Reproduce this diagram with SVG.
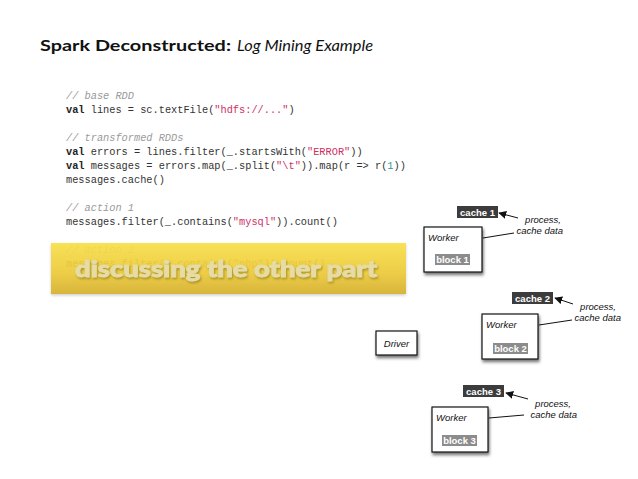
<svg xmlns="http://www.w3.org/2000/svg" width="638" height="479" viewBox="0 0 638 479">
<defs>
<style>
.code{font-family:"Liberation Mono",monospace;font-size:10.3px;fill:#333}
.cm{fill:#9a9a9a;font-style:italic}
.kw{font-weight:bold;fill:#222}
.str{fill:#d02f63}
.num{fill:#2a9a8a}
.box{fill:#fff;stroke:#111;stroke-width:1.2}
.it{font-family:"Liberation Sans",Arial,sans-serif;font-style:italic;font-size:9.5px;fill:#111}
.lbl{font-family:"Liberation Sans",Arial,sans-serif;font-weight:bold;font-size:9.5px;fill:#fff;text-anchor:middle}
.cache{fill:#3c3c3c}
.block{fill:#8c8c8c}
.ln{stroke:#111;stroke-width:1;fill:none}
</style>
<filter id="sh" x="-30%" y="-30%" width="160%" height="170%">
<feDropShadow dx="1" dy="2.5" stdDeviation="1.6" flood-color="#000" flood-opacity="0.55"/>
</filter>
<filter id="tsh" x="-5%" y="-30%" width="110%" height="170%">
<feDropShadow dx="1" dy="1.5" stdDeviation="1.3" flood-color="#8a7418" flood-opacity="0.7"/>
</filter>
<filter id="bsh" x="-5%" y="-20%" width="110%" height="150%">
<feDropShadow dx="0" dy="1.5" stdDeviation="1.5" flood-color="#000" flood-opacity="0.2"/>
</filter>
<linearGradient id="yel" x1="0" y1="0" x2="0" y2="1">
<stop offset="0" stop-color="#f8e04a"/>
<stop offset="0.6" stop-color="#ecc93a"/>
<stop offset="1" stop-color="#d4b02c"/>
</linearGradient>
<marker id="ah" viewBox="0 0 10 10" refX="9" refY="5" markerWidth="8" markerHeight="8" orient="auto" markerUnits="userSpaceOnUse">
<path d="M0,0 L10,5 L0,10 z" fill="#111"/>
</marker>
</defs>
<rect width="638" height="479" fill="#fff"/>

<g id="title" font-family="Lato,'Liberation Sans',sans-serif" font-size="16" fill="#111">
<text x="40" y="51" font-weight="bold" textLength="191" lengthAdjust="spacingAndGlyphs">Spark Deconstructed:</text>
<text x="237" y="51" font-style="italic" textLength="136" lengthAdjust="spacingAndGlyphs">Log Mining Example</text>
</g>

<g id="code" class="code">
<text x="66" y="99"><tspan class="cm">// base RDD</tspan></text>
<text x="66" y="113"><tspan class="kw">val</tspan> lines = sc.textFile(<tspan class="str">"hdfs://..."</tspan>)</text>
<text x="66" y="141"><tspan class="cm">// transformed RDDs</tspan></text>
<text x="66" y="155"><tspan class="kw">val</tspan> errors = lines.filter(_.startsWith(<tspan class="str">"ERROR"</tspan>))</text>
<text x="66" y="169"><tspan class="kw">val</tspan> messages = errors.map(_.split(<tspan class="str">"\t"</tspan>)).map(r =&gt; r(<tspan class="num">1</tspan>))</text>
<text x="66" y="183">messages.cache()</text>
<text x="66" y="211"><tspan class="cm">// action 1</tspan></text>
<text x="66" y="225">messages.filter(_.contains(<tspan class="str">"mysql"</tspan>)).count()</text>
<text x="66" y="253"><tspan class="cm">// action 2</tspan></text>
<text x="66" y="267">messages.filter(_.contains(<tspan class="str">"php"</tspan>)).count()</text>
</g>

<g id="banner">
<rect x="51" y="243" width="355" height="51" fill="url(#yel)" opacity="0.93" filter="url(#bsh)"/>
<text x="75" y="277" font-family="Lato,'Liberation Sans',sans-serif" font-weight="900" font-size="22" fill="#e6dca4" stroke="#e6dca4" stroke-width="0.9" textLength="302" lengthAdjust="spacingAndGlyphs" filter="url(#tsh)">discussing the other part</text>
</g>

<g id="connectors">
<line class="ln" x1="518" y1="218" x2="499" y2="213" marker-end="url(#ah)"/>
<line class="ln" x1="483" y1="238" x2="514" y2="233"/>
<line class="ln" x1="573" y1="304" x2="555" y2="298" marker-end="url(#ah)"/>
<line class="ln" x1="539" y1="325" x2="572" y2="320"/>
<line class="ln" x1="528" y1="399" x2="506" y2="393" marker-end="url(#ah)"/>
<line class="ln" x1="489" y1="418" x2="524" y2="415"/>
</g>

<g id="driver">
<rect class="box" x="376" y="331" width="41" height="24" filter="url(#sh)"/>
<text class="it" x="396.5" y="347" text-anchor="middle">Driver</text>
</g>

<g id="worker1">
<rect class="box" x="424" y="227" width="58" height="45" filter="url(#sh)"/>
<text class="it" x="428" y="241">Worker</text>
<rect class="block" x="435" y="254" width="35" height="11"/>
<text class="lbl" x="452.5" y="263">block 1</text>
</g>
<g id="cache1">
<rect class="cache" x="457" y="206" width="41" height="12"/>
<text class="lbl" x="477.5" y="215.5">cache 1</text>
</g>
<g id="note1" class="it" text-anchor="end">
<text x="561" y="223">process,</text>
<text x="563" y="234">cache data</text>
</g>

<g id="worker2">
<rect class="box" x="482" y="314" width="56" height="45" filter="url(#sh)"/>
<text class="it" x="486" y="328">Worker</text>
<rect class="block" x="493" y="343" width="35" height="11"/>
<text class="lbl" x="510.5" y="352">block 2</text>
</g>
<g id="cache2">
<rect class="cache" x="512" y="292" width="41" height="12"/>
<text class="lbl" x="532.5" y="301.5">cache 2</text>
</g>
<g id="note2" class="it" text-anchor="end">
<text x="616" y="310">process,</text>
<text x="621" y="321">cache data</text>
</g>

<g id="worker3">
<rect class="box" x="432" y="407" width="56" height="45" filter="url(#sh)"/>
<text class="it" x="436" y="421">Worker</text>
<rect class="block" x="442" y="435" width="35" height="11"/>
<text class="lbl" x="459.5" y="444">block 3</text>
</g>
<g id="cache3">
<rect class="cache" x="463" y="385" width="41" height="12"/>
<text class="lbl" x="483.5" y="394.5">cache 3</text>
</g>
<g id="note3" class="it" text-anchor="end">
<text x="571" y="407">process,</text>
<text x="577" y="418">cache data</text>
</g>
</svg>
